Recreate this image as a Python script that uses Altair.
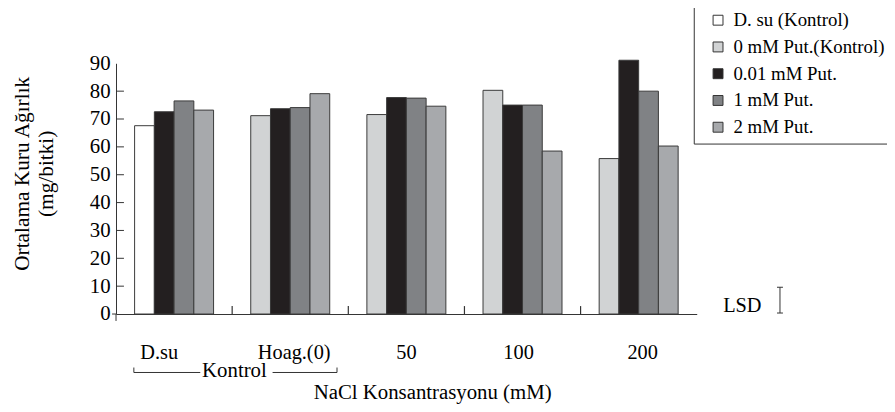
import altair as alt
import pandas as pd

# ---- data ----
groups = ["D.su", "Hoag.(0)", "50", "100", "200"]
series = ["D. su (Kontrol)", "0 mM Put.(Kontrol)", "0.01 mM Put.", "1 mM Put.", "2 mM Put."]
colors = ["#ffffff", "#d1d3d4", "#231f20", "#808285", "#a7a9ac"]
control_series = ["D. su (Kontrol)", "0 mM Put.(Kontrol)", "0 mM Put.(Kontrol)",
                  "0 mM Put.(Kontrol)", "0 mM Put.(Kontrol)"]
control_vals = [67.6, 71.2, 71.6, 80.3, 55.8]
put_001 = [72.6, 73.7, 77.7, 75.0, 91.1]
put_1 = [76.5, 74.1, 77.5, 75.0, 80.0]
put_2 = [73.2, 79.1, 74.6, 58.5, 60.3]
y_ticks = [0, 10, 20, 30, 40, 50, 60, 70, 80, 90]
label_offsets = [-15, 4, 0, -4, 4]

rows = []
for i, g in enumerate(groups):
    rows.append({"group": g, "slot": 0, "series": control_series[i], "value": control_vals[i]})
    rows.append({"group": g, "slot": 1, "series": series[2], "value": put_001[i]})
    rows.append({"group": g, "slot": 2, "series": series[3], "value": put_1[i]})
    rows.append({"group": g, "slot": 3, "series": series[4], "value": put_2[i]})
df = pd.DataFrame(rows)

FONT = "Liberation Serif"
INK = "#333333"
Y_TITLE = ["Ortalama Kuru Ağırlık", "(mg/bitki)"]

label_offset = {
    "condition": [
        {"test": f"datum.value === '{g}'", "value": o}
        for g, o in zip(groups[:-1], label_offsets[:-1])
    ],
    "value": label_offsets[-1],
}

x_enc = alt.X(
    "group:N", sort=groups,
    scale=alt.Scale(domain=groups, paddingInner=0.32, paddingOuter=0.16),
    axis=alt.Axis(
        title="NaCl Konsantrasyonu (mM)", ticks=False, tickSize=0, labelAngle=0,
        labelPadding=29, labelFontSize=20.5, labelOffset=label_offset,
        domainColor=INK, titleFontSize=21, titleFontWeight="normal",
        titleX=319, titleY=85, titleBaseline="alphabetic", titleAlign="center",
    ),
)

y_axis = alt.Axis(
    values=y_ticks, tickCount=10, title=Y_TITLE, grid=False, ticks=False, tickSize=0,
    labelPadding=6, labelFontSize=21, labelOverlap=False, labelFont=FONT,
    domainColor=INK, titleFontSize=21.5, titleFontWeight="normal",
    titleX=-105, titleY=111, titleBaseline="top", titleAlign="center",
    titleLineHeight=24,
)
y_scale = alt.Scale(domain=[0, 90], nice=False)

bars = alt.Chart(df).mark_bar(stroke="#3a3a3a", strokeWidth=1).encode(
    x=x_enc,
    xOffset=alt.XOffset("slot:O", scale=alt.Scale(paddingInner=0, paddingOuter=0)),
    y=alt.Y("value:Q", scale=y_scale, axis=y_axis),
    color=alt.Color(
        "series:N", scale=alt.Scale(domain=series, range=colors),
        legend=alt.Legend(
            title=None, orient="none", legendX=583, legendY=-59,
            symbolType="square", symbolSize=100, symbolStrokeColor=INK,
            symbolStrokeWidth=1, labelFontSize=19, labelFont=FONT, rowPadding=7,
            padding=6, strokeColor=INK, symbolOffset=9, labelOffset=6,
            labelLimit=300, fillColor="white",
        ),
    ),
)

# inward-pointing y ticks
tick_df = pd.DataFrame({"value": [t for t in y_ticks if 0 < t < 90]})
yticks = alt.Chart(tick_df).mark_rule(color=INK).encode(
    y=alt.Y("value:Q", scale=y_scale, axis=y_axis),
    x=alt.value(0), x2=alt.value(8),
)

# separator ticks between groups: end of each full-step band on an unpadded scale
sep_df = pd.DataFrame({"group": groups[:-1]})
seps = alt.Chart(sep_df).mark_rule(color=INK, strokeWidth=1.2).encode(
    x=alt.X("group:N", sort=groups, bandPosition=1, axis=None,
            scale=alt.Scale(domain=groups, paddingInner=0, paddingOuter=0)),
    y=alt.value(245),
    y2=alt.value(253),
)

one = pd.DataFrame({"a": [0]})

yext = alt.Chart(one).mark_rule(color=INK).encode(
    x=alt.value(0), y=alt.value(253), y2=alt.value(260))
xext = alt.Chart(one).mark_rule(color=INK).encode(
    x=alt.value(-4), x2=alt.value(0), y=alt.value(253))

br1 = alt.Chart(one).mark_rule(color=INK).encode(
    x=alt.value(18), x2=alt.value(85), y=alt.value(312))
br2 = alt.Chart(one).mark_rule(color=INK).encode(
    x=alt.value(18), y=alt.value(307), y2=alt.value(312))
br3 = alt.Chart(one).mark_rule(color=INK).encode(
    x=alt.value(158), x2=alt.value(223), y=alt.value(312))
br4 = alt.Chart(one).mark_rule(color=INK).encode(
    x=alt.value(223), y=alt.value(307), y2=alt.value(312))
kontrol = alt.Chart(one).mark_text(
    text="Kontrol", font=FONT, fontSize=21, baseline="alphabetic", align="center",
    color="black").encode(x=alt.value(119.5), y=alt.value(317))

# LSD marker (annotation)
lsd_text = alt.Chart(one).mark_text(
    text="LSD", font=FONT, fontSize=20.5, baseline="alphabetic", align="center",
    color="black").encode(x=alt.value(632), y=alt.value(251))
lsd_bar = alt.Chart(one).mark_rule(color=INK).encode(
    x=alt.value(670), y=alt.value(226), y2=alt.value(252))
lsd_top = alt.Chart(one).mark_rule(color=INK).encode(
    x=alt.value(667), x2=alt.value(673), y=alt.value(226))
lsd_bot = alt.Chart(one).mark_rule(color=INK).encode(
    x=alt.value(667), x2=alt.value(673), y=alt.value(252))

chart = alt.layer(
    bars, yticks, seps, yext, xext, br1, br2, br3, br4, kontrol,
    lsd_text, lsd_bar, lsd_top, lsd_bot
).resolve_scale(x="independent").properties(
    width=586, height=253,
    autosize=alt.AutoSizeParams(type="none"),
    padding={"left": 109, "top": 54, "right": 192, "bottom": 89},
).configure_view(stroke=None).configure_axis(
    labelFont=FONT, titleFont=FONT, labelColor="black", titleColor="black",
).configure_legend(labelColor="black")

chart.save("out.html", embed_options={"renderer": "svg", "actions": False})
